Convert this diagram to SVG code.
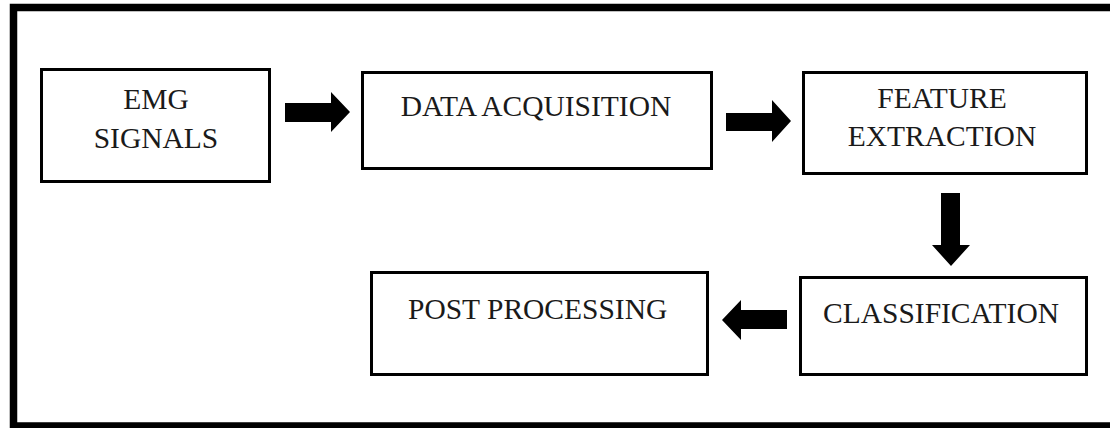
<svg xmlns="http://www.w3.org/2000/svg" width="1110" height="428" viewBox="0 0 1110 428">
<style>
.box{fill:#fff;stroke:#000;stroke-width:3}
.lbl{font-family:"Liberation Serif","Times New Roman",serif;font-size:29.5px;fill:#1a1a1a}
.mid{text-anchor:middle}
.arr{fill:#000;stroke:none}
</style>
<rect x="0" y="0" width="1110" height="428" fill="#fff"/>
<path d="M1112 7.5 H13.5 V426 H1112" fill="none" stroke="#000" stroke-width="7.5"/>
<g id="emg-signals">
<rect class="box" x="41.5" y="69.5" width="228" height="112"/>
<text class="lbl mid" x="156" y="109">EMG</text>
<text class="lbl mid" x="156" y="148">SIGNALS</text>
</g>
<g id="data-acquisition">
<rect class="box" x="362.5" y="72.5" width="349" height="96"/>
<text class="lbl mid" x="536" y="116">DATA ACQUISITION</text>
</g>
<g id="feature-extraction">
<rect class="box" x="803.5" y="72.5" width="283" height="101"/>
<text class="lbl mid" x="942" y="108">FEATURE</text>
<text class="lbl mid" x="942" y="146">EXTRACTION</text>
</g>
<g id="classification">
<rect class="box" x="800.5" y="277.5" width="286" height="97"/>
<text class="lbl" x="823" y="323">CLASSIFICATION</text>
</g>
<g id="post-processing">
<rect class="box" x="371.5" y="272.5" width="336" height="102"/>
<text class="lbl" x="408" y="319">POST PROCESSING</text>
</g>
<g id="connectors">
<polygon class="arr" points="285,103 331,103 331,92 350,112 331,132 331,122 285,122"/>
<polygon class="arr" points="726,113 772,113 772,100 791,121 772,142 772,131 726,131"/>
<polygon class="arr" points="941,193 960,193 960,245 970,245 951,266 932,245 941,245"/>
<polygon class="arr" points="787,310 741,310 741,300 722,320 741,340 741,329 787,329"/>
</g>
</svg>
